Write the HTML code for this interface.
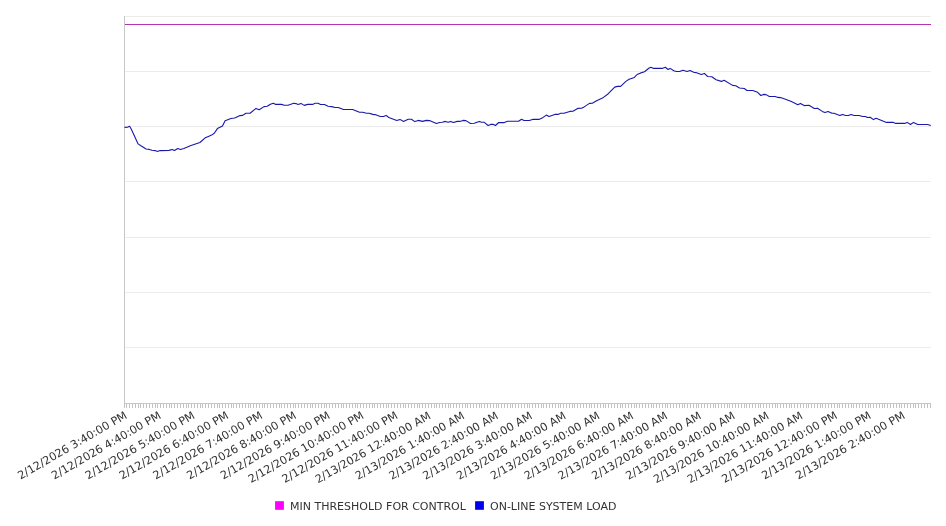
<!DOCTYPE html>
<html><head><meta charset="utf-8"><title>Load chart</title>
<style>
html,body{margin:0;padding:0;background:#fff;}
body{width:946px;height:526px;overflow:hidden;font-family:"DejaVu Sans","Liberation Sans",sans-serif;}
svg{display:block}
svg text{font-family:"DejaVu Sans","Liberation Sans",sans-serif;font-size:11px;fill:#333;}
.xl text{font-size:11.21px}
.xl text.am{font-size:11.12px}
</style></head><body>
<svg width="946" height="526" viewBox="0 0 946 526">
<rect width="946" height="526" fill="#fff"/>
<g shape-rendering="crispEdges" stroke="#ececec" stroke-width="1">
<line x1="125" x2="931" y1="16.5" y2="16.5"/>
<line x1="125" x2="931" y1="71.5" y2="71.5"/>
<line x1="125" x2="931" y1="126.5" y2="126.5"/>
<line x1="125" x2="931" y1="181.5" y2="181.5"/>
<line x1="125" x2="931" y1="237.5" y2="237.5"/>
<line x1="125" x2="931" y1="292.5" y2="292.5"/>
<line x1="125" x2="931" y1="347.5" y2="347.5"/>
</g>
<g shape-rendering="crispEdges" stroke="#c2c2c2" stroke-width="1">
<path d="M124.5 404V408M126.5 404V408M129.5 404V408M132.5 404V408M135.5 404V408M138.5 404V408M140.5 404V408M143.5 404V408M146.5 404V408M149.5 404V408M152.5 404V408M155.5 404V408M157.5 404V408M160.5 404V408M163.5 404V408M166.5 404V408M169.5 404V408M171.5 404V408M174.5 404V408M177.5 404V408M180.5 404V408M183.5 404V408M186.5 404V408M188.5 404V408M191.5 404V408M194.5 404V408M197.5 404V408M200.5 404V408M202.5 404V408M205.5 404V408M208.5 404V408M211.5 404V408M214.5 404V408M217.5 404V408M219.5 404V408M222.5 404V408M225.5 404V408M228.5 404V408M231.5 404V408M233.5 404V408M236.5 404V408M239.5 404V408M242.5 404V408M245.5 404V408M248.5 404V408M250.5 404V408M253.5 404V408M256.5 404V408M259.5 404V408M262.5 404V408M264.5 404V408M267.5 404V408M270.5 404V408M273.5 404V408M276.5 404V408M279.5 404V408M281.5 404V408M284.5 404V408M287.5 404V408M290.5 404V408M293.5 404V408M295.5 404V408M298.5 404V408M301.5 404V408M304.5 404V408M307.5 404V408M310.5 404V408M312.5 404V408M315.5 404V408M318.5 404V408M321.5 404V408M324.5 404V408M326.5 404V408M329.5 404V408M332.5 404V408M335.5 404V408M338.5 404V408M341.5 404V408M343.5 404V408M346.5 404V408M349.5 404V408M352.5 404V408M355.5 404V408M357.5 404V408M360.5 404V408M363.5 404V408M366.5 404V408M369.5 404V408M372.5 404V408M374.5 404V408M377.5 404V408M380.5 404V408M383.5 404V408M386.5 404V408M388.5 404V408M391.5 404V408M394.5 404V408M397.5 404V408M400.5 404V408M403.5 404V408M405.5 404V408M408.5 404V408M411.5 404V408M414.5 404V408M417.5 404V408M419.5 404V408M422.5 404V408M425.5 404V408M428.5 404V408M431.5 404V408M434.5 404V408M436.5 404V408M439.5 404V408M442.5 404V408M445.5 404V408M448.5 404V408M450.5 404V408M453.5 404V408M456.5 404V408M459.5 404V408M462.5 404V408M465.5 404V408M467.5 404V408M470.5 404V408M473.5 404V408M476.5 404V408M479.5 404V408M481.5 404V408M484.5 404V408M487.5 404V408M490.5 404V408M493.5 404V408M496.5 404V408M498.5 404V408M501.5 404V408M504.5 404V408M507.5 404V408M510.5 404V408M512.5 404V408M515.5 404V408M518.5 404V408M521.5 404V408M524.5 404V408M527.5 404V408M529.5 404V408M532.5 404V408M535.5 404V408M538.5 404V408M541.5 404V408M543.5 404V408M546.5 404V408M549.5 404V408M552.5 404V408M555.5 404V408M558.5 404V408M560.5 404V408M563.5 404V408M566.5 404V408M569.5 404V408M572.5 404V408M574.5 404V408M577.5 404V408M580.5 404V408M583.5 404V408M586.5 404V408M589.5 404V408M591.5 404V408M594.5 404V408M597.5 404V408M600.5 404V408M603.5 404V408M605.5 404V408M608.5 404V408M611.5 404V408M614.5 404V408M617.5 404V408M620.5 404V408M622.5 404V408M625.5 404V408M628.5 404V408M631.5 404V408M634.5 404V408M636.5 404V408M639.5 404V408M642.5 404V408M645.5 404V408M648.5 404V408M651.5 404V408M653.5 404V408M656.5 404V408M659.5 404V408M662.5 404V408M665.5 404V408M667.5 404V408M670.5 404V408M673.5 404V408M676.5 404V408M679.5 404V408M682.5 404V408M684.5 404V408M687.5 404V408M690.5 404V408M693.5 404V408M696.5 404V408M698.5 404V408M701.5 404V408M704.5 404V408M707.5 404V408M710.5 404V408M713.5 404V408M715.5 404V408M718.5 404V408M721.5 404V408M724.5 404V408M727.5 404V408M729.5 404V408M732.5 404V408M735.5 404V408M738.5 404V408M741.5 404V408M744.5 404V408M746.5 404V408M749.5 404V408M752.5 404V408M755.5 404V408M758.5 404V408M760.5 404V408M763.5 404V408M766.5 404V408M769.5 404V408M772.5 404V408M775.5 404V408M777.5 404V408M780.5 404V408M783.5 404V408M786.5 404V408M789.5 404V408M791.5 404V408M794.5 404V408M797.5 404V408M800.5 404V408M803.5 404V408M806.5 404V408M808.5 404V408M811.5 404V408M814.5 404V408M817.5 404V408M820.5 404V408M822.5 404V408M825.5 404V408M828.5 404V408M831.5 404V408M834.5 404V408M837.5 404V408M839.5 404V408M842.5 404V408M845.5 404V408M848.5 404V408M851.5 404V408M853.5 404V408M856.5 404V408M859.5 404V408M862.5 404V408M865.5 404V408M868.5 404V408M870.5 404V408M873.5 404V408M876.5 404V408M879.5 404V408M882.5 404V408M884.5 404V408M887.5 404V408M890.5 404V408M893.5 404V408M896.5 404V408M899.5 404V408M901.5 404V408M904.5 404V408M907.5 404V408M910.5 404V408M913.5 404V408M915.5 404V408M918.5 404V408M921.5 404V408M924.5 404V408M927.5 404V408M930.5 404V408" fill="none"/>
</g>
<g shape-rendering="crispEdges" stroke="#c8c8c8" stroke-width="1"><line x1="124.5" x2="124.5" y1="16" y2="404"/><line x1="124" x2="931" y1="403.5" y2="403.5"/></g>
<line x1="125" x2="931" y1="24.5" y2="24.5" stroke="#b432b4" stroke-width="1" shape-rendering="crispEdges"/>
<polyline fill="none" stroke="#1818ac" stroke-width="1.1" stroke-linejoin="round" points="124.5,127.4 127.5,127.2 129.6,126.3 131.2,129 134.9,137 138.1,143.9 141.3,146 146.1,149 149.3,149.4 152,150.3 155.1,150.6 157.5,151.4 160,150.6 169,150.4 172.2,149.5 174.5,150.5 177.8,148.5 180.4,149.5 183.9,148.5 190.3,145.8 199.9,142.5 205.2,137.8 208.4,136.4 211.6,135.1 214.3,133.2 217.4,128.6 220,127.2 222.5,126 225.1,120.7 231,118.5 234.7,118 240,115.6 242.7,115.4 245.9,113.2 250.1,113.2 256,108.4 259.2,109.7 264,106.6 267.2,106.3 270.4,104.2 273.4,103.3 275.7,104.4 281.6,104.4 284.2,105.2 288,105.2 293.8,103.3 295.9,103.6 298.1,104.5 301,103.4 304.2,105.4 307.7,104.4 312.4,104.4 315.3,103.2 318,103.2 320.6,104.5 324.4,104.5 328.1,106.3 331.8,106.6 335,107.5 338.2,107.5 343.5,109.5 352.6,109.5 359.5,112.3 362.7,112.3 366.4,113.3 369.1,113.3 372.8,114.4 375,114.6 380.3,116.5 383.5,116.5 386.1,115.4 388.8,117.5 396.8,120.5 400,119.4 403.5,121.5 408.2,119.3 411.4,119.3 414.8,121.6 418.3,120.4 422.6,121.4 426.3,120.4 429.5,120.6 436.4,123.5 439.6,122.5 442.3,122.3 445.3,121.4 448.1,122.3 450.8,121.4 453.5,122.5 457.2,121.4 459.8,121.4 463,120.4 465.9,120.6 470.5,123.5 474.2,123.3 479.2,121.4 481.7,122.3 484.3,122.3 488.1,125.5 490.7,124.4 493.4,124.4 495.5,125.5 498.7,122.5 504.3,122.6 507.5,121.3 518.6,121.3 521.6,119.2 524,120.5 529.3,120.5 532.5,119.4 538.9,119.4 542.1,118.1 546.3,115.1 549,116.5 554.8,114.4 558,114.4 560.7,113.3 563.9,113.3 569.8,111.4 572.9,111.2 577.7,108.4 581.5,108.2 584.1,106.9 589.5,103.4 592.7,103.1 597.1,100.6 602.5,98.1 608.3,93.7 614.7,87.1 617.4,86.4 620.6,86.4 625.9,81.4 629.1,79.3 634.4,77.4 637.1,74.5 640.8,72.9 644.5,71.8 648.8,68.3 650.9,67.3 653.6,68.4 662.1,68.4 665.3,67.3 668,69.5 670.1,68.4 673.8,70.8 676.5,71.5 679.7,71.5 682.9,70.2 687.1,71.5 690,70.4 693.7,72.3 695.9,72.6 701.2,74.5 704.4,73.4 707.6,76.5 711.8,76.8 716.1,79.8 721.4,81.4 724.1,80.3 732.6,85.4 735.8,85.7 739.5,88 744.3,88.5 747,90.5 752.8,90.5 757.6,92.3 760.8,95.5 763.5,94.4 766.1,94.6 769.3,96.5 775.2,96.5 777.9,97.4 780.5,97.6 784.8,99 791.4,101.6 797.8,104.7 800.4,103.4 804.2,105.6 809,105.3 814.3,108.5 817.5,108.2 822.3,111.4 824.9,112.5 828.1,111.4 831.9,113.3 834,113.3 839.8,115.5 842.5,114.4 845.7,115.5 848.4,115.5 851,114.4 854.2,115.5 859,115.5 862.7,116.5 865.4,116.5 867.5,117.5 870.2,117.3 873.4,119.6 876.1,118.3 886.5,122.4 893.4,122.4 895.9,123.4 904.5,123.4 907.2,122.4 910.5,124.5 913.5,122.4 917.8,124.5 927.6,124.5 930.8,125.5"/>
<g class="xl" text-anchor="end">
<text transform="translate(128.00 417.55) rotate(-30)">2/12/2026 3:40:00 PM</text>
<text transform="translate(161.82 417.55) rotate(-30)">2/12/2026 4:40:00 PM</text>
<text transform="translate(195.64 417.55) rotate(-30)">2/12/2026 5:40:00 PM</text>
<text transform="translate(229.45 417.55) rotate(-30)">2/12/2026 6:40:00 PM</text>
<text transform="translate(263.27 417.55) rotate(-30)">2/12/2026 7:40:00 PM</text>
<text transform="translate(297.09 417.55) rotate(-30)">2/12/2026 8:40:00 PM</text>
<text transform="translate(330.91 417.55) rotate(-30)">2/12/2026 9:40:00 PM</text>
<text transform="translate(364.73 417.55) rotate(-30)">2/12/2026 10:40:00 PM</text>
<text transform="translate(398.55 417.55) rotate(-30)">2/12/2026 11:40:00 PM</text>
<text class="am" transform="translate(431.50 418.05) rotate(-30)">2/13/2026 12:40:00 AM</text>
<text class="am" transform="translate(465.32 418.05) rotate(-30)">2/13/2026 1:40:00 AM</text>
<text class="am" transform="translate(499.13 418.05) rotate(-30)">2/13/2026 2:40:00 AM</text>
<text class="am" transform="translate(532.95 418.05) rotate(-30)">2/13/2026 3:40:00 AM</text>
<text class="am" transform="translate(566.77 418.05) rotate(-30)">2/13/2026 4:40:00 AM</text>
<text class="am" transform="translate(600.59 418.05) rotate(-30)">2/13/2026 5:40:00 AM</text>
<text class="am" transform="translate(634.41 418.05) rotate(-30)">2/13/2026 6:40:00 AM</text>
<text class="am" transform="translate(668.22 418.05) rotate(-30)">2/13/2026 7:40:00 AM</text>
<text class="am" transform="translate(702.04 418.05) rotate(-30)">2/13/2026 8:40:00 AM</text>
<text class="am" transform="translate(735.86 418.05) rotate(-30)">2/13/2026 9:40:00 AM</text>
<text class="am" transform="translate(769.68 418.05) rotate(-30)">2/13/2026 10:40:00 AM</text>
<text class="am" transform="translate(803.50 418.05) rotate(-30)">2/13/2026 11:40:00 AM</text>
<text transform="translate(838.18 417.55) rotate(-30)">2/13/2026 12:40:00 PM</text>
<text transform="translate(872.00 417.55) rotate(-30)">2/13/2026 1:40:00 PM</text>
<text transform="translate(905.82 417.55) rotate(-30)">2/13/2026 2:40:00 PM</text>
</g>
<rect x="275.1" y="501.2" width="8.8" height="8.6" fill="#fa00fa"/><text x="290" y="510">MIN THRESHOLD FOR CONTROL</text>
<rect x="475.1" y="501.2" width="8.8" height="8.6" fill="#0000ee"/><text x="490" y="510">ON-LINE SYSTEM LOAD</text>
</svg></body></html>
